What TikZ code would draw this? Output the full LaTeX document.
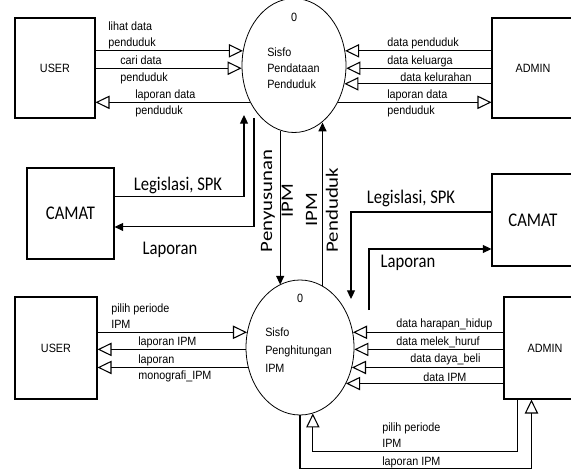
\documentclass[tikz,border=0pt]{standalone}
\usepackage{fontspec}
\newfontfamily\dfdsans{Liberation Sans}[FakeStretch=0.9]
\newfontfamily\dfdcal{Carlito}[FakeStretch=0.86]
\newfontfamily\dfdcalv{Carlito}[FakeStretch=1.2]
\usetikzlibrary{shapes.geometric,arrows.meta}

\begin{document}
\begin{tikzpicture}[x=0.75pt,y=-0.75pt,
  entity/.style={draw,line width=0.8pt,inner sep=0pt},
  proc/.style={ellipse,draw,line width=0.6pt,inner sep=0pt},
  flow/.style={-{Triangle[open,length=10.5pt,width=10pt]},line width=0.8pt},
  sflow/.style={-{Triangle[length=6.5pt,width=6pt]},line width=0.8pt},
  lbl/.style={font=\dfdsans\fontsize{9}{12}\selectfont,inner sep=0pt,align=left},
  clbl/.style={font=\dfdcal\fontsize{14.5}{16}\selectfont,inner sep=0pt},
  vlbl/.style={font=\dfdcalv\fontsize{13}{15.5}\selectfont,inner sep=0pt,align=center,rotate=90}]
  \useasboundingbox (0,0) rectangle (571,470);

  % external entities
  \node[entity,lbl,minimum width=60pt,minimum height=75pt] (userT) at (55,68) {USER};
  \node[entity,lbl,minimum width=61.5pt,minimum height=75pt] (adminT) at (533,68) {ADMIN};
  \node[entity,clbl,minimum width=65.25pt,minimum height=68.25pt] (camatL) at (70.5,213.5) {CAMAT};
  \node[entity,clbl,minimum width=61.5pt,minimum height=69pt] (camatR) at (533,220) {CAMAT};
  \node[entity,lbl,minimum width=61.5pt,minimum height=76.5pt] (userB) at (56,348) {USER};
  \node[entity,lbl,minimum width=61.5pt,minimum height=76.5pt] (adminB) at (545,348) {ADMIN};

  % processes
  \node[proc,minimum width=78pt,minimum height=100.5pt] (procT) at (294,65.5) {};
  \node[lbl] (numT) at (294,17) {0};
  \node[lbl,anchor=west] (txtT) at (267,68.5) {Sisfo\\Pendataan\\Penduduk};
  \node[proc,minimum width=81pt,minimum height=101.25pt] (procB) at (300,347.5) {};
  \node[lbl] (numB) at (300,298) {0};
  \node[lbl,anchor=west,font=\dfdsans\fontsize{9}{13.5}\selectfont] (txtB) at (265,350) {Sisfo\\Penghitungan\\IPM};

  % top flows
  \draw[flow] (procT.164 -| userT.east) -- (procT.164);
  \draw[flow] (procT.183 -| userT.east) -- (procT.183);
  \draw[flow] (procT.220) -- (procT.220 -| userT.east);
  \draw[flow] (procT.16 -| adminT.west) -- (procT.16);
  \draw[flow] (procT.357 -| adminT.west) -- (procT.357);
  \draw[flow] (procT.340 -| adminT.west) -- (procT.340);
  \draw[flow] (procT.320) -- (procT.320 -| adminT.west);
  \node[lbl,anchor=west] (l1) at (108,35) {lihat data\\penduduk};
  \node[lbl,anchor=west,font=\dfdsans\fontsize{9}{12.75}\selectfont] (l2) at (120,69.5) {cari data\\penduduk};
  \node[lbl,anchor=west] (l3) at (135,103) {laporan data\\penduduk};
  \node[lbl,anchor=west] (r1) at (387,43) {data penduduk};
  \node[lbl,anchor=west] (r2) at (387,61) {data keluarga};
  \node[lbl,anchor=west] (r3) at (400,77) {data kelurahan};
  \node[lbl,anchor=west] (r4) at (387,103) {laporan data\\penduduk};

  % flows between processes
  \draw[sflow] (procT.258) -- (procT.258 |- procB.108);
  \draw[sflow] (procB.70) -- (procB.70 |- procT.296);
  \node[vlbl] (susun) at (277,201) {Penyusunan\\IPM};
  \node[vlbl] (pend) at (322,210) {IPM\\Penduduk};

  % camat flows
  \coordinate (legT) at (244,115);
  \coordinate (lapT) at (254,118);
  \coordinate (legB) at (351,299);
  \coordinate (lapB) at (369,310);
  \draw[sflow] ([yshift=12.4pt]camatL.east) -| (legT);
  \draw[sflow] (lapT) |- ([yshift=-10.1pt]camatL.east);
  \draw[sflow] ([yshift=6pt]camatR.west) -| (legB);
  \draw[sflow] (lapB) |- ([yshift=-21.75pt]camatR.west);
  \node[clbl] (legL) at (178,185) {Legislasi, SPK};
  \node[clbl] (lapL) at (170,250) {Laporan};
  \node[clbl] (legR) at (411,198) {Legislasi, SPK};
  \node[clbl] (lapR) at (408,263) {Laporan};

  % bottom flows
  \draw[flow] (procB.164 -| userB.east) -- (procB.164);
  \draw[flow] (procB.182) -- (procB.182 -| userB.east);
  \draw[flow] (procB.201) -- (procB.201 -| userB.east);
  \draw[flow] (procB.16 -| adminB.west) -- (procB.16);
  \draw[flow] (procB.358 -| adminB.west) -- (procB.358);
  \draw[flow] (procB.339 -| adminB.west) -- (procB.339);
  \draw[flow] (procB.322 -| adminB.west) -- (procB.322);
  \draw[flow] ([xshift=10.5pt]adminB.south west) -- ++(0,52) -| (procB.281);
  \draw[flow] (procB.south) -- ++(0,53) -| ([xshift=21pt]adminB.south west);
  \node[lbl,anchor=west] (b1) at (111,316) {pilih periode\\IPM};
  \node[lbl,anchor=west] (b2) at (138,342) {laporan IPM};
  \node[lbl,anchor=west] (b3) at (138,368) {laporan\\monografi\_IPM};
  \node[lbl,anchor=west] (c1) at (396,324) {data harapan\_hidup};
  \node[lbl,anchor=west] (c2) at (396,342) {data melek\_huruf};
  \node[lbl,anchor=west] (c3) at (410,359) {data daya\_beli};
  \node[lbl,anchor=west] (c4) at (423,377) {data IPM};
  \node[lbl,anchor=west] (d1) at (382,435) {pilih periode\\IPM};
  \node[lbl,anchor=west] (d2) at (382,462) {laporan IPM};
\end{tikzpicture}
\end{document}
